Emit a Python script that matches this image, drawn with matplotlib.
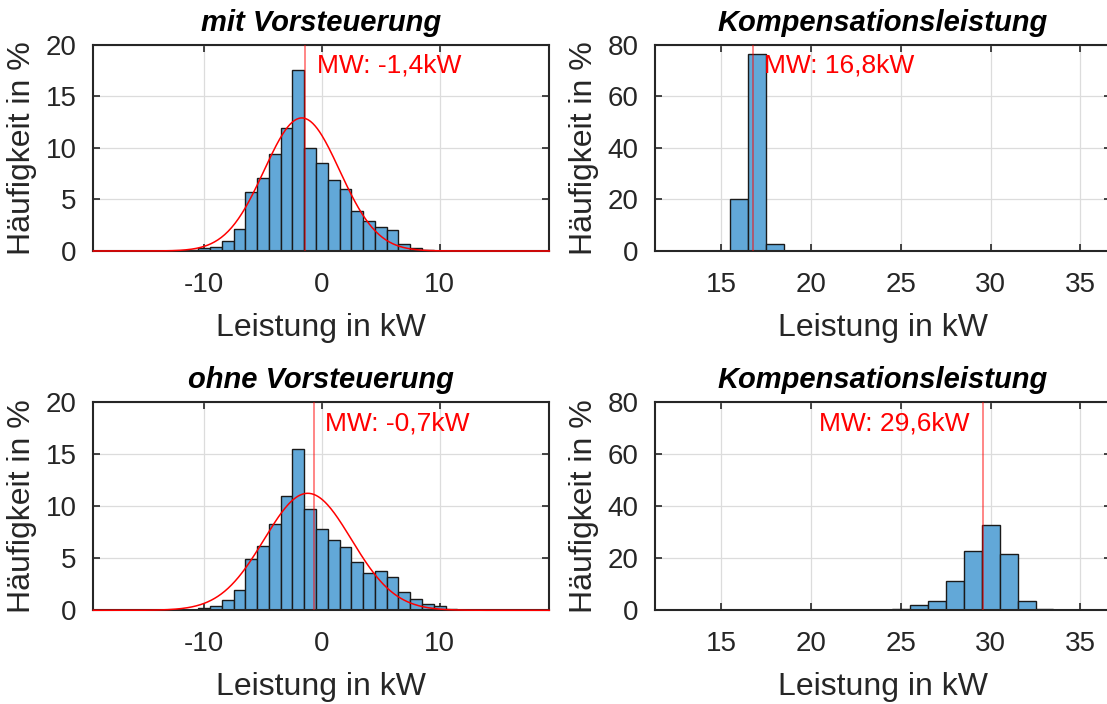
import numpy as np
import matplotlib
matplotlib.use("Agg")
import matplotlib.pyplot as plt

plt.rcParams["font.family"] = ["Liberation Sans", "DejaVu Sans"]
plt.rcParams["axes.unicode_minus"] = False

INK = "#262626"
BAR = "#62a8d8"
GRID = "#dcdcdc"

# bin centres (width 1 kW) and frequencies in %
left_centers = list(range(-11, 13))
mit_freq = [0.06, 0.26, 0.36, 1.0, 2.1, 5.7, 7.1, 9.4, 11.9, 17.5, 10.0, 8.5,
            6.9, 6.0, 3.85, 2.95, 2.3, 2.0, 0.65, 0.26, 0.13, 0.03, 0.0, 0.0]
ohne_freq = [0.06, 0.19, 0.38, 1.0, 2.0, 4.9, 6.15, 8.3, 10.95, 15.5, 9.75, 7.8,
             6.8, 6.1, 4.6, 3.6, 3.8, 3.2, 1.75, 1.05, 0.65, 0.45, 0.13, 0.06]

right_centers = list(range(13, 36))
komp_mit = [0, 0, 0, 20.3, 76.4, 2.8, 0, 0, 0, 0, 0, 0,
            0, 0, 0, 0, 0, 0, 0, 0, 0, 0, 0]
komp_ohne = [0, 0, 0, 0, 0, 0, 0, 0, 0, 0, 0, 0.2,
             0.4, 1.9, 3.7, 11.4, 22.8, 32.7, 21.7, 3.6, 0.5, 0.1, 0]

# mean values (MW) and normal fit parameters (mu, sigma, peak %)
mw = [-1.4, 16.8, -0.7, 29.6]
fit_mit = (-1.7, 3.2, 12.9)
fit_ohne = (-1.2, 3.7, 11.25)

titles = ["mit Vorsteuerung", "Kompensationsleistung",
          "ohne Vorsteuerung", "Kompensationsleistung"]

fig = plt.figure(figsize=(11.07, 7.04), dpi=100)
W, H = 1107, 704
pos = [(93.3, 44.7, 456, 206.3), (655, 44.7, 456, 206.3),
       (93.3, 402.3, 456, 208), (655, 402.3, 456, 208)]
axes = [fig.add_axes([x / W, 1 - (y + h) / H, w / W, h / H]) for x, y, w, h in pos]

panels = [
    (left_centers, mit_freq, fit_mit, (-19.4, 19.3), [-10, 0, 10], 20, [0, 5, 10, 15, 20]),
    (right_centers, komp_mit, None, (11.33, 36.7), [15, 20, 25, 30, 35], 80, [0, 20, 40, 60, 80]),
    (left_centers, ohne_freq, fit_ohne, (-19.4, 19.3), [-10, 0, 10], 20, [0, 5, 10, 15, 20]),
    (right_centers, komp_ohne, None, (11.33, 36.7), [15, 20, 25, 30, 35], 80, [0, 20, 40, 60, 80]),
]

for i, (ax, (cx, fr, fit, xl, xt, ymax, yt)) in enumerate(zip(axes, panels)):
    ax.bar(cx, fr, width=1.0, color=BAR, edgecolor="#1a1a1a", linewidth=1.0, zorder=2)
    if fit is not None:
        mu, sd, pk = fit
        xs = np.linspace(xl[0], xl[1], 400)
        ax.plot(xs, pk * np.exp(-0.5 * ((xs - mu) / sd) ** 2), color="red", lw=1.1,
                zorder=4, clip_on=False)
    ax.axvline(mw[i], color="red", lw=1.1, alpha=0.6, zorder=5)
    lbl = f"MW: {mw[i]:.1f}kW".replace(".", ",")
    if i == 3:
        ax.annotate(lbl, (mw[i], 0.9 * ymax), xytext=(-10, 0), textcoords="offset points",
                    ha="right", va="center", color="red", fontsize=19)
    else:
        ax.annotate(lbl, (mw[i], 0.9 * ymax), xytext=(8, 0), textcoords="offset points",
                    ha="left", va="center", color="red", fontsize=19)
    ax.set_xlim(*xl)
    ax.set_ylim(0, ymax)
    ax.set_xticks(xt)
    ax.set_yticks(yt)
    ax.grid(True, color=GRID, lw=0.9, zorder=0)
    ax.set_axisbelow(True)
    ax.tick_params(direction="in", length=5, width=1.2, colors=INK, labelsize=20,
                   top=True, right=True, pad=12)
    ax.tick_params(axis="x", pad=15)
    for sp in ax.spines.values():
        sp.set_color(INK)
        sp.set_linewidth(1.5)
    ax.set_xlabel("Leistung in kW", fontsize=23, color=INK, labelpad=11)
    ax.set_ylabel("Häufigkeit in %", fontsize=23, color=INK, labelpad=6)
    ax.set_title(titles[i], fontsize=21, fontweight="bold", fontstyle="italic",
                 color="black", pad=10)

fig.savefig("out.png", dpi=100)
